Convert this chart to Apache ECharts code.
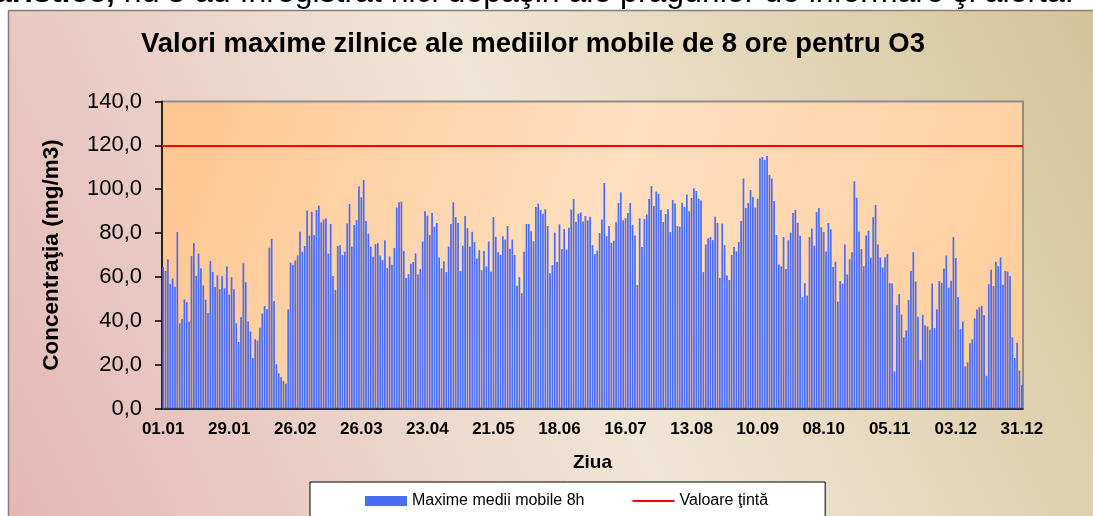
<!DOCTYPE html>
<html>
<head>
<meta charset="utf-8">
<title>Valori maxime zilnice O3</title>
<script src="https://cdn.jsdelivr.net/npm/echarts@6/dist/echarts.min.js"></script>
<style>
  html, body { margin: 0; padding: 0; background: #fff; }
  #chart { width: 1093px; height: 516px; }
</style>
</head>
<body>
<div id="chart"></div>
<script>
// zile pe luna (an nebisect) -> etichetele categoriilor dd.mm
const monthLengths = [31, 28, 31, 30, 31, 30, 31, 31, 30, 31, 30, 31]

// maxime zilnice ale mediilor mobile de 8 ore, pe trimestre
const q1Values = [
  64.5, 62.7, 68.1, 56.9, 59.3, 55.5, 80.5, 38.8, 40.8, 49.7,
  48.5, 39.7, 69.5, 75.4, 60.5, 70.6, 64.0, 56.1, 49.6, 43.5,
  67.2, 62.2, 55.4, 60.7, 54.4, 60.4, 54.8, 64.8, 51.9, 59.9,
  54.4, 38.9, 30.3, 41.7, 66.2, 57.6, 39.8, 35.1, 23.0, 31.6,
  31.0, 36.8, 43.3, 46.7, 45.3, 73.3, 77.4, 49.0, 20.2, 16.0,
  14.3, 12.5, 11.3, 45.2, 66.5, 65.6, 67.5, 69.8, 80.6, 71.5,
  74.1, 90.3, 78.8, 89.7, 79.1, 90.5, 92.6, 84.9, 86.2, 86.7,
  70.6, 84.1, 60.4, 54.1, 74.1, 74.4, 70.0, 71.5, 84.4, 93.2,
  73.8, 83.7, 85.9, 101.4, 96.4, 104.2, 85.5, 79.7, 73.8, 69.2
]
const q2Values = [
  75.0, 75.4, 69.7, 67.7, 76.7, 64.0, 69.4, 65.6, 73.2, 91.6,
  94.0, 94.4, 71.9, 59.5, 61.3, 66.0, 66.8, 70.7, 61.1, 63.6,
  76.2, 89.9, 87.9, 79.1, 89.1, 82.9, 84.6, 68.9, 63.9, 67.2,
  62.2, 73.8, 84.1, 94.0, 87.3, 84.6, 62.7, 74.2, 87.8, 82.3,
  73.8, 80.6, 75.9, 68.4, 72.2, 63.1, 71.8, 64.8, 76.2, 62.4,
  87.3, 78.3, 71.3, 70.1, 78.6, 77.0, 83.2, 72.9, 77.0, 70.0,
  56.0, 59.9, 52.6, 71.5, 84.1, 84.1, 80.8, 76.3, 91.9, 93.5,
  90.5, 88.8, 90.9, 83.2, 61.7, 65.4, 80.2, 66.8, 84.0, 72.7,
  81.8, 72.5, 82.4, 90.8, 95.5, 85.0, 88.8, 89.4, 85.3, 87.8,
  85.8
]
const q3Values = [
  87.5, 74.5, 70.4, 72.1, 80.0, 86.2, 102.8, 78.6, 83.2,
  75.6, 76.5, 84.9, 93.7, 98.6, 85.9, 86.8, 89.1, 93.7, 83.7,
  78.9, 56.3, 86.7, 73.6, 86.4, 88.5, 95.5, 101.4, 92.3, 98.9,
  97.9, 90.5, 85.0, 88.7, 90.9, 80.5, 95.1, 93.5, 83.2, 82.9,
  93.8, 91.9, 97.6, 90.0, 96.0, 100.4, 99.2, 95.7, 94.8, 62.2,
  74.8, 77.6, 78.2, 76.8, 87.5, 84.6, 59.5, 84.3, 74.5, 60.7,
  58.6, 70.0, 73.6, 71.6, 75.9, 85.5, 104.9, 91.4, 93.7, 99.6,
  96.4, 91.6, 95.7, 114.1, 114.7, 113.3, 115.1, 106.5, 104.9, 94.6,
  79.1, 65.7, 64.9, 78.2, 63.6, 76.7, 80.2, 89.1, 90.5, 84.7,
  78.8, 50.8, 57.2
]
const q4Values = [
  51.4, 78.2, 82.1, 74.2, 89.6, 91.4, 82.7,
  80.5, 71.6, 84.6, 81.7, 64.5, 66.9, 48.7, 58.1, 57.0, 74.8,
  61.1, 68.1, 71.2, 103.7, 96.1, 80.6, 72.7, 64.9, 78.9, 81.1,
  68.7, 87.3, 92.8, 74.8, 68.9, 64.3, 69.0, 70.4, 57.2, 57.0,
  17.0, 47.1, 52.2, 42.9, 32.5, 35.6, 49.4, 62.7, 71.3, 57.9,
  41.8, 22.1, 42.7, 38.0, 37.4, 35.9, 57.0, 36.7, 45.3, 58.1,
  57.3, 63.9, 69.7, 55.1, 58.3, 78.2, 68.6, 50.8, 36.3, 39.7,
  19.2, 21.1, 29.8, 31.6, 41.1, 45.2, 46.2, 46.7, 42.6, 14.9,
  56.7, 63.3, 55.8, 66.9, 64.9, 68.9, 56.4, 62.7, 62.4, 60.4,
  32.5, 23.0, 30.0, 17.3, 10.8
]

const TARGET = 120 // valoare tinta
const yTicks = [0, 20, 40, 60, 80, 100, 120, 140]

const font = 'Liberation Sans, Arial, sans-serif'
// thin horizontal line as legend icon (bounds 42x10, line in the middle)
const lineIcon = 'path://M0,0h1v0.01h-1zM0,4h42v2h-42zM0,9.99h1v0.01h-1z'

const days = []
monthLengths.forEach((n, m) => {
  for (let d = 1; d <= n; d++) {
    days.push(String(d).padStart(2, '0') + '.' + String(m + 1).padStart(2, '0'))
  }
})
const values = q1Values.concat(q2Values, q3Values, q4Values)

const chart = echarts.init(document.getElementById('chart'))
chart.setOption({
  animation: false,
  backgroundColor: '#ffffff',
  textStyle: { fontFamily: font },
  graphic: [
    {
      type: 'rect',
      z: -10,
      silent: true,
      shape: { x: 8.5, y: 10.5, width: 1100, height: 520 },
      style: {
        fill: new echarts.graphic.LinearGradient(0, 1, 1, 0, [
          { offset: 0, color: '#e4b7b4' },
          { offset: 0.5, color: '#f0e6d6' },
          { offset: 1, color: '#d4c398' }
        ]),
        stroke: '#808080',
        lineWidth: 1.5
      }
    },
    {
      // text of the page above the chart, cut by the crop
      type: 'text',
      silent: true,
      x: -6,
      y: -7,
      style: {
        text: '{b|aristice,} nu s-au înregistrat nici depăşiri ale pragurilor de informare şi alertă.',
        font: '32px ' + font,
        fill: '#000',
        verticalAlign: 'middle',
        rich: { b: { fontWeight: 'bold', fontSize: 32, fontFamily: font } }
      }
    }
  ],
  title: {
    text: 'Valori maxime zilnice ale mediilor mobile de 8 ore pentru O3',
    left: 141,
    top: 30,
    padding: 0,
    textStyle: { fontSize: 27.5, fontWeight: 'bold', color: '#000', fontFamily: font }
  },
  legend: {
    left: 310,
    top: 482,
    padding: [11, 57, 40, 55],
    itemGap: 48,
    itemWidth: 42,
    itemHeight: 10,
    backgroundColor: '#ffffff',
    borderColor: '#000',
    borderWidth: 1,
    borderRadius: 0,
    selectedMode: false,
    textStyle: { fontSize: 16, color: '#000', fontFamily: font },
    data: [
      { name: 'Maxime medii mobile 8h', icon: 'rect' },
      { name: 'Valoare ţintă', icon: lineIcon }
    ]
  },
  grid: {
    left: 162,
    right: 70,
    top: 101.5,
    bottom: 107.5,
    show: true,
    borderColor: '#8c8c8c',
    borderWidth: 2,
    backgroundColor: new echarts.graphic.LinearGradient(0, 0, 1, 1, [
      { offset: 0, color: '#ffc68f' },
      { offset: 0.5, color: '#ffdfc0' },
      { offset: 1, color: '#ffcc99' }
    ])
  },
  xAxis: {
    type: 'category',
    data: days,
    name: 'Ziua',
    nameLocation: 'middle',
    nameGap: 45,
    nameTextStyle: { fontSize: 19, fontWeight: 'bold', color: '#000', fontFamily: font },
    axisLine: { lineStyle: { color: '#000', width: 1.5 } },
    axisTick: { show: false },
    axisLabel: {
      interval: 27,
      margin: 12,
      fontSize: 17,
      fontWeight: 'bold',
      color: '#000',
      fontFamily: font
    },
    splitLine: { show: false }
  },
  yAxis: {
    type: 'value',
    min: yTicks[0],
    max: yTicks[yTicks.length - 1],
    interval: yTicks[1] - yTicks[0],
    name: 'Concentraţia (mg/m3)',
    nameLocation: 'middle',
    nameRotate: 90,
    nameGap: 99,
    nameTextStyle: { fontSize: 22.5, fontWeight: 'bold', color: '#000', fontFamily: font },
    axisLine: { show: true, lineStyle: { color: '#000', width: 1.5 } },
    axisTick: { show: true, length: 7, lineStyle: { color: '#000', width: 1.5 } },
    axisLabel: {
      margin: 20,
      fontSize: 22,
      color: '#000',
      fontFamily: font,
      formatter: v => v.toFixed(1).replace('.', ',')
    },
    splitLine: { show: false }
  },
  series: [
    {
      name: 'Maxime medii mobile 8h',
      type: 'bar',
      data: values,
      barWidth: 1.7,
      itemStyle: { color: '#4a6cf0' }
    },
    {
      name: 'Valoare ţintă',
      type: 'line',
      data: [],
      symbol: 'none',
      itemStyle: { color: '#ff0000' },
      lineStyle: { color: '#ff0000', width: 2 },
      markLine: {
        silent: true,
        symbol: ['none', 'none'],
        label: { show: false },
        lineStyle: { color: '#ff0000', width: 2, type: 'solid' },
        data: [{ yAxis: TARGET }]
      }
    }
  ]
})
</script>
</body>
</html>
